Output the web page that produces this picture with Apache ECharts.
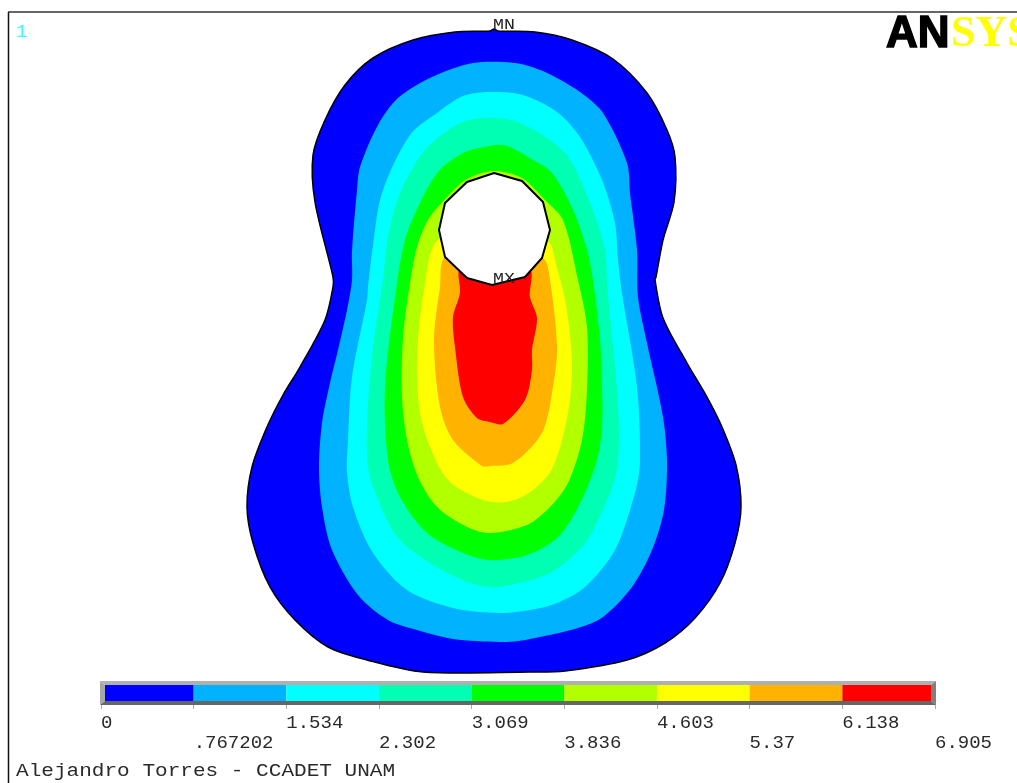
<!DOCTYPE html>
<html>
<head>
<meta charset="utf-8">
<style>html,body{margin:0;padding:0;background:#fff}#c{width:1017px;height:783px}</style>
<script src="https://cdn.jsdelivr.net/npm/echarts@6/dist/echarts.min.js"></script>
</head>
<body>
<div id="c"></div>
<script>
const tickLabels = ['0','.767202','1.534','2.302','3.069','3.836','4.603','5.37','6.138','6.905'];
const levelColors = ['#0000ff','#00b2ff','#00ffff','#00ffb2','#00ff00','#b2ff00','#ffff00','#ffb200','#ff0000'];
const levels = tickLabels.map(Number);

const contourBlue = [[490,31],[494,29],[498,31],[535,32],[572,40],[613,59],[647,93],[667,130],[675,157],[674,202],[663,240],[656,277],[655,280],[663,318],[687,363],[707,397],[722,427],[736,465],[741,507],[735,543],[720,583],[695,618],[665,643],[627,660],[565,671],[530,672],[423,672],[367,660],[328,647],[295,620],[270,587],[253,543],[247,507],[252,467],[267,427],[283,395],[300,367],[325,320],[333,287],[333,277],[315,202],[313,155],[325,120],[345,85],[373,58],[413,40],[455,32]];
const contourLightBlue = [[515,63],[545,72],[580,92],[603,113],[627,163],[630,193],[637,250],[638,297],[647,343],[663,417],[667,462],[664,510],[652,550],[632,587],[603,617],[578,628],[535,638],[518,641],[500,642],[453,639],[417,630],[388,620],[358,595],[332,550],[322,507],[319,468],[322,423],[330,383],[338,350],[347,310],[352,280],[352,252],[357,190],[360,167],[378,125],[398,98],[432,77],[473,63]];
const contourCyan = [[523,95],[557,112],[580,137],[602,180],[615,223],[618,260],[622,293],[637,387],[640,462],[635,493],[615,550],[585,587],[557,603],[530,610],[500,613],[453,608],[407,590],[373,553],[353,507],[347,472],[348,440],[352,377],[367,300],[368,287],[372,253],[382,193],[410,135],[437,113],[463,96],[490,92]];
const contourMint = [[520,123],[565,153],[590,203],[605,250],[607,283],[618,405],[618,462],[610,493],[585,543],[550,573],[510,585],[490,587],[467,582],[430,563],[397,537],[377,497],[368,467],[367,423],[373,347],[383,280],[388,237],[400,193],[425,150],[460,123],[490,118]];
const contourGreen = [[507,146],[533,160],[552,173],[573,210],[587,250],[593,280],[600,340],[602,387],[602,427],[597,460],[580,503],[558,537],[527,555],[490,560],[463,553],[427,533],[400,497],[388,460],[385,387],[397,283],[405,240],[418,207],[438,172],[463,153],[490,146]];
const contourLime = [[494,171],[522,178],[545,200],[563,220],[578,280],[587,327],[587,390],[582,440],[568,483],[550,507],[527,525],[490,533],[467,527],[437,507],[418,477],[407,440],[402,397],[403,337],[410,283],[417,247],[428,220],[447,197],[467,179]];
const contourYellow = [[494,230],[547,240],[557,268],[566,305],[572,363],[568,413],[553,467],[533,490],[507,502],[480,499],[448,480],[430,447],[420,413],[417,357],[425,283],[438,240]];
const contourOrange = [[494,240],[543,258],[550,280],[557,347],[553,387],[542,433],[513,463],[490,466],[482,466],[453,440],[440,407],[434,340],[440,287],[445,257]];
const contourRed = [[494,250],[530,268],[530,297],[537,318],[532,350],[532,370],[525,400],[503,424],[490,422],[477,418],[463,397],[455,347],[453,317],[460,293],[460,268]];
const hole = [[494,173],[522,181],[543,202],[550,230],[542,258],[525,277],[492,285],[467,278],[445,257],[439,230],[445,203],[467,182]];

const contours = [contourBlue,contourLightBlue,contourCyan,contourMint,contourGreen,contourLime,contourYellow,contourOrange,contourRed];

function renderContour(params, api) {
  const i = params.dataIndex;
  const isHole = i === contours.length;
  const pts = isHole ? hole : contours[i];
  const isEdge = i === 0 || isHole;
  return {
    type: 'polygon',
    shape: { points: pts.map(p => api.coord(p)), smooth: isHole ? 0 : 0.3 },
    style: {
      fill: isHole ? '#ffffff' : levelColors[i],
      stroke: isEdge ? '#000000' : null,
      lineWidth: isHole ? 2 : (isEdge ? 1.5 : 0)
    }
  };
}
function renderBand(params, api) {
  const a = api.coord([levels[params.dataIndex], 0]);
  const b = api.coord([levels[params.dataIndex + 1], 1]);
  return { type: 'rect', shape: { x: a[0], y: b[1], width: b[0] - a[0], height: a[1] - b[1] },
    style: { fill: levelColors[params.dataIndex] } };
}
function stretched(text, x, y, size, family, scaleX, fill, weight, stroke) {
  return { type: 'text', x: x, y: y, scaleX: scaleX, z: 20,
    style: { text: text, x: 0, y: 0, fill: fill, fontSize: size, fontFamily: family, fontWeight: weight || 'normal', verticalAlign: 'middle', stroke: stroke || null, lineWidth: stroke ? 1.5 : 0 } };
}
const mono = '"Liberation Mono"';

const chart = echarts.init(document.getElementById('c'));
chart.setOption({
  animation: false,
  backgroundColor: '#ffffff',
  grid: [
    { left: 0, top: 0, width: 1017, height: 783 },
    { left: 101, top: 685, width: 834, height: 16 }
  ],
  xAxis: [
    { type: 'value', gridIndex: 0, min: 0, max: 1017, show: false },
    { type: 'value', gridIndex: 1, min: 0, max: 6.905,
      axisLine: { show: false }, splitLine: { show: false },
      axisTick: { show: true, length: 8, lineStyle: { color: '#aaaaaa', width: 1 }, customValues: levels },
      axisLabel: { show: true, customValues: levels, align: 'left', margin: 12, fontFamily: mono, fontSize: 19, lineHeight: 20, color: '#2a2a2a',
        formatter: (v) => { const k = levels.indexOf(v); return (k % 2 ? '\n' : '') + tickLabels[k]; } } }
  ],
  yAxis: [
    { type: 'value', gridIndex: 0, min: 0, max: 783, inverse: true, show: false },
    { type: 'value', gridIndex: 1, min: 0, max: 1, show: false }
  ],
  series: [
    { type: 'custom', xAxisIndex: 0, yAxisIndex: 0, coordinateSystem: 'cartesian2d', clip: false, silent: true,
      data: contours.concat([hole]).map((c) => [c[0][0], c[0][1]]), renderItem: renderContour },
    { type: 'custom', xAxisIndex: 1, yAxisIndex: 1, coordinateSystem: 'cartesian2d', clip: false, silent: true,
      data: levelColors.map((c, i) => [levels[i], 0]), renderItem: renderBand }
  ],
  graphic: [
    { type: 'line', z: 20, shape: { x1: 8.5, y1: 12, x2: 8.5, y2: 783 }, style: { stroke: '#111111', lineWidth: 1.5 } },
    { type: 'line', z: 20, shape: { x1: 8, y1: 12, x2: 1017, y2: 12 }, style: { stroke: '#333333', lineWidth: 1.5 } },
    { type: 'polygon', z: 20, shape: { points: [[100,681],[936,681],[931,685],[105,685]] }, style: { fill: '#b0b0b0' } },
    { type: 'polygon', z: 20, shape: { points: [[100,705],[936,705],[931,701],[105,701]] }, style: { fill: '#666666' } },
    { type: 'polygon', z: 20, shape: { points: [[100,681],[105,685],[105,701],[100,705]] }, style: { fill: '#a8a8a8' } },
    { type: 'polygon', z: 20, shape: { points: [[936,681],[931,685],[931,701],[936,705]] }, style: { fill: '#808080' } },
    stretched('1', 16, 32, 18, mono, 1.05, '#33ffff'),
    stretched('MN', 493, 25, 14, mono, 1.3, '#222222'),
    stretched('MX', 493, 279, 14, mono, 1.3, '#222222'),
    stretched('Alejandro Torres - CCADET UNAM', 16, 771, 18, mono, 1.17, '#2a2a2a'),
    stretched('AN', 886, 35, 44, '"Liberation Sans"', 1, '#000000', 'bold', '#000000'),
    stretched('SYS', 951, 35, 44, '"Liberation Serif"', 1, '#ffff00', 'bold')
  ]
});
</script>
</body>
</html>
